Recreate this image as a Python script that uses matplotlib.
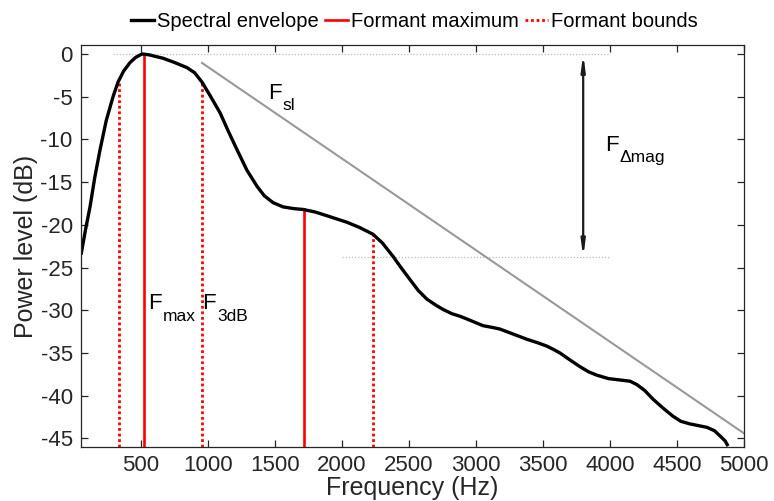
import matplotlib
matplotlib.use("Agg")
import matplotlib.pyplot as plt
from matplotlib.lines import Line2D

plt.rcParams['font.family'] = ['Liberation Sans', 'DejaVu Sans']
plt.rcParams['axes.unicode_minus'] = False

# spectral envelope (Hz, dB)
env_hz = [52, 85, 119, 155, 194, 240, 291, 328, 370, 418, 460, 507, 560,
          610, 664, 750, 843, 900, 955, 1020, 1090, 1150, 1216, 1290, 1366,
          1420, 1485, 1560, 1640, 1709, 1800, 1900, 2037, 2130, 2231, 2300,
          2381, 2440, 2507, 2570, 2634, 2700, 2754, 2820, 2881, 2960, 3052,
          3120, 3179, 3280, 3381, 3460, 3530, 3580, 3627, 3700, 3776, 3840,
          3903, 3990, 4097, 4150, 4201, 4260, 4321, 4400, 4470, 4530, 4597,
          4660, 4724, 4780, 4821, 4860, 4881]
env_db = [-23.5, -20.6, -17.9, -14.4, -11.2, -7.8, -5.0, -3.3, -2.0, -1.0,
          -0.4, 0.0, -0.1, -0.3, -0.5, -1.0, -1.6, -2.2, -3.3, -5.0, -6.9,
          -9.0, -11.2, -13.6, -15.5, -16.6, -17.4, -17.9, -18.1, -18.2, -18.5,
          -19.0, -19.7, -20.3, -21.1, -22.1, -23.7, -25.0, -26.4, -27.7,
          -28.7, -29.4, -29.9, -30.4, -30.7, -31.2, -31.8, -32.0, -32.2,
          -32.8, -33.4, -33.8, -34.2, -34.6, -35.0, -35.8, -36.6, -37.2,
          -37.6, -38.0, -38.2, -38.3, -38.7, -39.4, -40.4, -41.5, -42.4,
          -43.0, -43.3, -43.5, -43.7, -44.1, -44.7, -45.3, -45.9]

# formant maxima and bounds
fmax_hz = [519, 1715]
fmax_db = [0.0, -18.2]
fbound_hz = [335, 955, 2231]
fbound_db = [-3.3, -3.3, -21.1]

# spectral slope line
slope_hz = [955, 5000]
slope_db = [-1.05, -44.4]

# delta-magnitude reference levels
ref_top_hz = [291, 4000]
ref_top_db = [0.0, 0.0]
ref_low_hz = [2000, 4000]
ref_low_db = [-23.8, -23.8]
arrow_hz = 3800

# annotation labels: (Hz, dB, main letter, subscript)
notes = [(1448, -5.3, 'F', 'sl'),
         (3963, -11.4, 'F', '\u0394mag'),
         (552, -29.9, 'F', 'max'),
         (958, -29.9, 'F', '3dB')]

xlim = (52, 5000)
ylim = (-46, 1.05)
xticks = [500, 1000, 1500, 2000, 2500, 3000, 3500, 4000, 4500, 5000]
yticks = [0, -5, -10, -15, -20, -25, -30, -35, -40, -45]

dark = '#262626'

fig = plt.figure(figsize=(7.74, 5.01), dpi=100)
ax = fig.add_axes([0.1047, 0.1078, 0.9612 - 0.1047, 0.9102 - 0.1078])

ax.plot(ref_top_hz, ref_top_db, color='0.72', lw=0.9, ls=(0, (1, 1.5)))
ax.plot(ref_low_hz, ref_low_db, color='0.72', lw=0.9, ls=(0, (1, 1.5)))
ax.plot(slope_hz, slope_db, color='0.6', lw=1.5)

for f, d in zip(fmax_hz, fmax_db):
    ax.plot([f, f], [ylim[0], d], color='#ff0000', lw=1.9)
for f, d in zip(fbound_hz, fbound_db):
    ax.plot([f, f], [ylim[0], d], color='#ff0000', lw=2.0, ls=(0, (1, 1)))

ax.plot(env_hz, env_db, color='black', lw=2.4, solid_capstyle='butt')

ax.annotate('', xy=(arrow_hz, ref_low_db[0]), xytext=(arrow_hz, ref_top_db[0]),
            arrowprops=dict(arrowstyle='<|-|>,head_length=0.9,head_width=0.12',
                            color='#1a1a1a', lw=1.6, shrinkA=0, shrinkB=0))

# main letter plus a large, low subscript (MATLAB style)
for hz, db, main, sub in notes:
    ax.text(hz, db, main, fontsize=16, color='black', va='baseline')
    ax.annotate(sub, xy=(hz, db), xytext=(10.5, -8), textcoords='offset points',
                fontsize=12.5, color='black', va='baseline')

ax.set_xlim(*xlim)
ax.set_ylim(*ylim)
ax.set_xticks(xticks)
ax.set_yticks(yticks)
ax.tick_params(direction='in', top=True, right=True, length=5, width=0.9,
               labelsize=16, colors=dark, pad=6)
for s in ax.spines.values():
    s.set_color(dark)
    s.set_linewidth(0.9)
ax.set_xlabel('Frequency (Hz)', fontsize=18, color=dark, labelpad=0)
ax.set_ylabel('Power level (dB)', fontsize=18, color=dark, labelpad=2)

handles = [Line2D([], [], color='black', lw=2.4),
           Line2D([], [], color='#ff0000', lw=1.9),
           Line2D([], [], color='#ff0000', lw=2.0, ls=(0, (1, 1)))]
labels = ['Spectral envelope', 'Formant maximum', 'Formant bounds']
fig.legend(handles, labels, loc='upper center', bbox_to_anchor=(0.535, 1.012),
           ncol=3, frameon=False, fontsize=14.5, handlelength=1.15,
           handletextpad=0.15, columnspacing=0.3)

fig.savefig('out.png', dpi=100)
